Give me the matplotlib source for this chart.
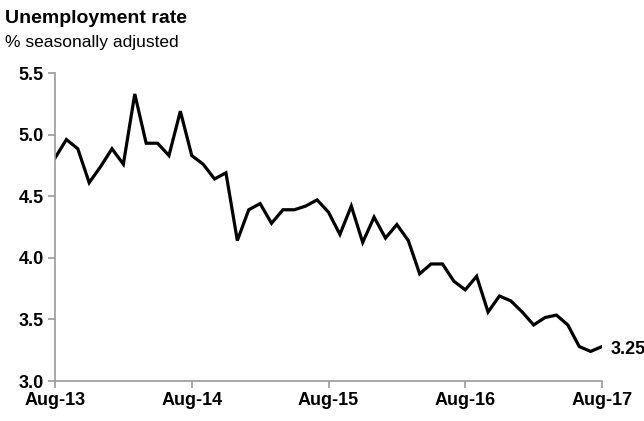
import matplotlib
matplotlib.use('Agg')
import matplotlib.pyplot as plt
import numpy as np

plt.rcParams['font.family'] = ['Liberation Sans Narrow', 'Liberation Sans', 'DejaVu Sans']

# Monthly unemployment rate, Aug-13 .. Aug-17
unemployment = [4.81, 4.96, 4.885, 4.61, 4.74, 4.885, 4.76, 5.33, 4.93, 4.93,
                4.83, 5.19, 4.83, 4.76, 4.64, 4.69, 4.14, 4.39, 4.44, 4.28,
                4.39, 4.39, 4.42, 4.47, 4.37, 4.19, 4.42, 4.125, 4.33, 4.16,
                4.27, 4.14, 3.87, 3.95, 3.95, 3.81, 3.74, 3.85, 3.56, 3.69,
                3.65, 3.56, 3.455, 3.515, 3.535, 3.455, 3.28, 3.24, 3.28]
tick_months = [0, 12, 24, 36, 48]
tick_labels = ['Aug-13', 'Aug-14', 'Aug-15', 'Aug-16', 'Aug-17']
y_ticks = [3.0, 3.5, 4.0, 4.5, 5.0, 5.5]
last_label = '3.25'

fig = plt.figure(figsize=(6.44, 4.21), dpi=100)
ax = fig.add_axes([0.0854, 0.095, 0.8494, 0.7316])

meses = np.arange(len(unemployment))
ax.plot(meses, unemployment, color='black', linewidth=2.3, solid_joinstyle='miter')

ax.set_xlim(0, len(unemployment) - 1)
ax.set_ylim(3.0, 5.5)
ax.set_xticks(tick_months)
ax.set_xticklabels(tick_labels)
ax.set_yticks(y_ticks)
ax.set_yticklabels([f'{v:.1f}' for v in y_ticks])

for lado in ['top', 'right']:
    ax.spines[lado].set_visible(False)
for lado in ['left', 'bottom']:
    ax.spines[lado].set_color('#999999')
    ax.spines[lado].set_linewidth(1.2)

ax.tick_params(axis='both', colors='#999999', labelcolor='black', length=5, width=1.2,
               labelsize=13)
for lbl in ax.get_xticklabels() + ax.get_yticklabels():
    lbl.set_fontweight('bold')
ax.tick_params(axis='x', pad=3)
ax.tick_params(axis='y', pad=3)

# Rotulo do ultimo valor
ax.annotate(last_label, xy=(meses[-1], unemployment[-1]), xytext=(6, -2),
            textcoords='offset points', ha='left', va='center',
            fontsize=13, fontweight='bold', annotation_clip=False)

fig.text(0.008, 0.955, 'Unemployment rate', fontsize=14, fontweight='bold',
         ha='left', va='center')
fig.text(0.008, 0.898, '% seasonally adjusted', fontsize=12.5,
         ha='left', va='center')

plt.savefig('out.png', dpi=100)
plt.close()
